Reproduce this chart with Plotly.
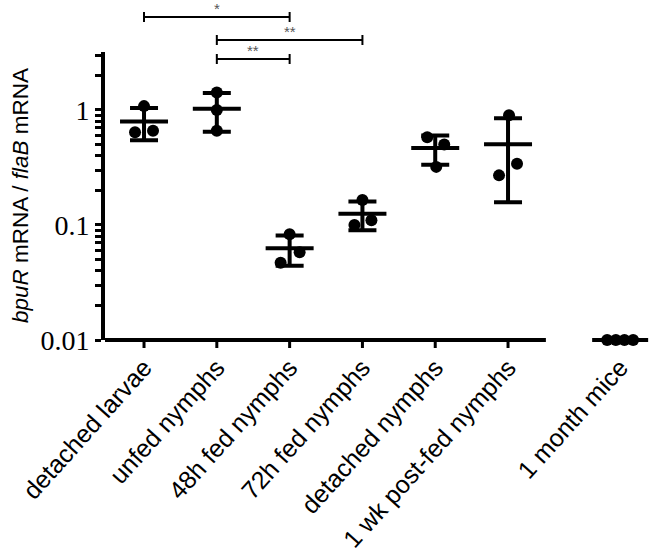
import numpy as np
import plotly.graph_objects as go

# ---------------- data ----------------
categories = ["detached larvae", "unfed nymphs", "48h fed nymphs", "72h fed nymphs",
              "detached nymphs", "1 wk post-fed nymphs", "1 month mice"]
detached_larvae = [1.08, 0.64, 0.66]
unfed_nymphs = [1.42, 1.00, 0.66]
fed48_nymphs = [0.083, 0.058, 0.047]
fed72_nymphs = [0.165, 0.110, 0.100]
detached_nymphs = [0.58, 0.50, 0.32]
wk1_postfed_nymphs = [0.90, 0.34, 0.27]
month1_mice = [0.01, 0.01, 0.01, 0.01]
groups = [detached_larvae, unfed_nymphs, fed48_nymphs, fed72_nymphs,
          detached_nymphs, wk1_postfed_nymphs, month1_mice]

y_tick_vals = [0.01, 0.1, 1]
y_tick_text = ["0.01", "0.1", "1"]

# significance comparisons: (group a, group b, label)
comparisons = [(0, 2, "*"), (1, 3, "**"), (1, 2, "**")]

# ---------------- layout / style ----------------
W, H = 654, 552
ML, MR, MT, MB = 105, 4, 52, 212
X_RANGE = [-0.536, 6.95]
Y_RANGE = [-2, 0.504]
PX_PER_UNIT = (W - ML - MR) / (X_RANGE[1] - X_RANGE[0])
x_pos = [0, 1, 2, 3, 4, 5, 6.54]           # mice group sits after an axis break
jitter_px = [[0, -9, 9], [0, 0, 0], [0, 10, -9], [0, 9, -8],
             [-8, 9, 1], [1, 9, -9], [-13, -4.3, 4.3, 13]]
mean_width_px = [48, 48, 48, 48, 48, 48, 56]
cap_half_px = [14, 14, 14, 14, 14, 14, 20]
sig_y_px = [17, 40, 59]                   # y pixel of each comparison bar

def paper_y(px):
    return (H - MB - px) / (H - MT - MB)

fig = go.Figure()
for i, vals in enumerate(groups):
    vals = np.array(vals, dtype=float)
    mean = vals.mean()
    sd = vals.std(ddof=1)
    xs = [x_pos[i] + j / PX_PER_UNIT for j in jitter_px[i]]
    fig.add_trace(go.Scatter(
        x=xs, y=vals, mode="markers", cliponaxis=False,
        marker=dict(color="black", size=12, line=dict(width=0)),
        showlegend=False, hoverinfo="y"))
    fig.add_trace(go.Scatter(
        x=[x_pos[i]], y=[mean], mode="markers", cliponaxis=False,
        marker=dict(symbol="line-ew", size=mean_width_px[i] / 1.4,
                    line=dict(color="black", width=4), color="black"),
        error_y=dict(type="data", array=[sd], arrayminus=[sd], symmetric=False,
                     color="black", thickness=4, width=cap_half_px[i]),
        showlegend=False, hoverinfo="y"))

shapes = []
# x axis line (stops before the mice group)
shapes.append(dict(type="line", xref="x", yref="paper", x0=X_RANGE[0], x1=5.52,
                   y0=0, y1=0, line=dict(color="black", width=4)))
# x tick marks for the first six groups
for p in x_pos[:6]:
    shapes.append(dict(type="line", xref="x", yref="paper", ysizemode="pixel",
                       yanchor=0, x0=p, x1=p, y0=0, y1=-8,
                       line=dict(color="black", width=3)))

annotations = []
cap = 5
for (a, b, lab), ypx in zip(comparisons, sig_y_px):
    y = paper_y(ypx)
    shapes.append(dict(type="line", xref="x", yref="paper", x0=x_pos[a], x1=x_pos[b],
                       y0=y, y1=y, line=dict(color="black", width=2)))
    for xe in (x_pos[a], x_pos[b]):
        shapes.append(dict(type="line", xref="x", yref="paper", x0=xe, x1=xe,
                           y0=paper_y(ypx - cap), y1=paper_y(ypx + cap),
                           line=dict(color="black", width=2)))
    annotations.append(dict(x=(x_pos[a] + x_pos[b]) / 2, y=y, xref="x", yref="paper",
                            text=lab, showarrow=False, yanchor="bottom", yshift=-2,
                            font=dict(size=15, color="#555555",
                                      family="Liberation Sans, Arial")))

annotations.append(dict(x=-85 / (W - ML - MR), y=0.5, xref="paper", yref="paper",
                        text="<i>bpuR</i> mRNA / <i>flaB</i> mRNA", textangle=-90,
                        showarrow=False, xanchor="center", yanchor="middle",
                        font=dict(size=22.5, color="black",
                                  family="Liberation Sans, Arial")))

minor_vals = [k * 10.0 ** e for e in (-2, -1, 0) for k in range(2, 10)
              if k * 10.0 ** e <= 10 ** Y_RANGE[1]]

fig.update_layout(
    width=W, height=H,
    margin=dict(l=ML, r=MR, t=MT, b=MB, autoexpand=False),
    paper_bgcolor="white", plot_bgcolor="white",
    shapes=shapes, annotations=annotations,
    xaxis=dict(range=X_RANGE, tickmode="array", tickvals=x_pos, ticktext=categories,
               tickangle=-48, ticks="outside", ticklen=2, tickcolor="rgba(0,0,0,0)",
               showline=False, showgrid=False, zeroline=False, automargin=False,
               tickfont=dict(size=25, color="black", family="Liberation Sans, Arial")),
    yaxis=dict(type="log", range=Y_RANGE, tickmode="array", tickvals=y_tick_vals,
               ticktext=y_tick_text, ticks="outside", ticklen=6, tickwidth=3,
               tickcolor="black", showline=True, linewidth=4, linecolor="black",
               showgrid=False, zeroline=False, automargin=False,
               minor=dict(tickmode="array", tickvals=minor_vals, ticks="outside",
                          ticklen=6, tickwidth=3, tickcolor="black", showgrid=False),
               tickfont=dict(size=28, color="black",
                             family="Liberation Serif, Times New Roman")),
)

fig.write_html("out.html", post_script="document.body.style.margin='0';",
               config={"displayModeBar": False})
